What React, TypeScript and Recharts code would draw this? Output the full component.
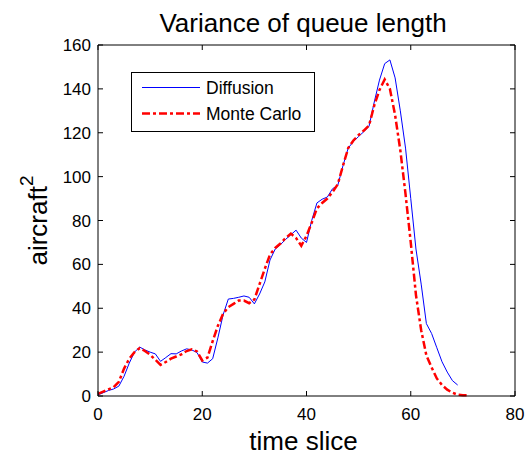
import { LineChart, Line, XAxis, YAxis, Legend, Label, ReferenceLine } from 'recharts';

const timeSlices = [
  0, 1, 2, 3, 4, 5, 6, 7, 8, 9, 10, 11, 12, 13, 14, 15, 16, 17, 18, 19, 20, 21, 22, 23,
  24, 25, 26, 27, 28, 29, 30, 31, 32, 33, 34, 35, 36, 37, 38, 39, 40, 41, 42, 43, 44, 45, 46, 47,
  48, 49, 50, 51, 52, 53, 54, 55, 56, 57, 58, 59, 60, 61, 62, 63, 64, 65, 66, 67, 68, 69, 70, 71,
];

const diffusion = [
  0.5, 1.5, 2.5, 3.2, 4.5, 9, 15, 20, 22.3, 21, 20, 19.2, 15.8, 17.5, 19.3, 19.2, 20.5, 21.5, 21, 19.8, 15.5, 15, 17, 26.5,
  37, 44.2, 44.5, 45, 45.6, 45, 42, 46.5, 52, 62, 67, 69, 71.4, 73.5, 75.6, 72, 70, 80, 88, 89.7, 90.7, 94.5, 96, 105,
  113, 116, 118.3, 120.5, 123, 134, 144, 151.5, 153.2, 145, 130, 113, 90, 67, 51, 33, 28.5, 22, 15.6, 10.9, 7, 5, null, null,
];

const monteCarlo = [
  1, 2, 3, 4, 6.5, 12.5, 17, 20, 21.8, 20.5, 18.8, 16.5, 14.2, 15.5, 17, 18, 19, 20.5, 21.3, 20.3, 16.2, 17.5, 25, 32,
  37.5, 40.5, 42, 43.5, 43.5, 42.3, 44, 51, 58, 64.5, 67.5, 69.5, 72, 74, 72, 68.5, 73, 79, 85.5, 88, 90, 93, 96.5, 105,
  113, 116.5, 119, 121, 123.3, 132.5, 139.5, 144.3, 140, 128, 112, 92, 70, 46, 30, 18.5, 13, 8, 5, 2.9, 1.5, 0.6, 0.3, 0.3,
];

const xTicks = [0, 20, 40, 60, 80];
const yTicks = [0, 20, 40, 60, 80, 100, 120, 140, 160];

const data = timeSlices.map((t, i) => ({ t, diffusion: diffusion[i], monteCarlo: monteCarlo[i] }));

const font = '"Liberation Sans", Arial, sans-serif';

// plot box size, used to mirror the inward ticks onto the top and right edges
const PLOT_W = 417;
const PLOT_H = 351;
const X_GAP = 12;
const Y_GAP = 7;
const TICK = 5;

function XTick(props: any) {
  const { x, y, payload } = props;
  const base = y - X_GAP;
  const top = base - PLOT_H;
  return (
    <g>
      <line x1={x} x2={x} y1={base} y2={base - TICK} stroke="#000" />
      <line x1={x} x2={x} y1={top} y2={top + TICK} stroke="#000" />
      <text x={x} y={y} dy="0.71em" textAnchor="middle" fontSize={17} fontFamily={font} fill="#000">
        {payload.value}
      </text>
    </g>
  );
}

function YTick(props: any) {
  const { x, y, payload } = props;
  const left = x + Y_GAP;
  const right = left + PLOT_W;
  return (
    <g>
      <line x1={left} x2={left + TICK} y1={y} y2={y} stroke="#000" />
      <line x1={right} x2={right - TICK} y1={y} y2={y} stroke="#000" />
      <text x={x} y={y} dy="0.355em" textAnchor="end" fontSize={17} fontFamily={font} fill="#000">
        {payload.value}
      </text>
    </g>
  );
}

function LegendBox() {
  return (
    <svg width={184} height={60} style={{ display: 'block', background: '#fff' }}>
      <rect x={0.5} y={0.5} width={183} height={59} fill="#fff" stroke="#000" strokeWidth={1} />
      <line x1={11} x2={69} y1={15.5} y2={15.5} stroke="#0000ff" strokeWidth={1} />
      <line x1={11} x2={69} y1={41.5} y2={41.5} stroke="#ff0000" strokeWidth={2.5} strokeDasharray="8 3 3 3" />
      <text x={75} y={21.5} fontSize={17.5} fontFamily={font} fill="#000">Diffusion</text>
      <text x={75} y={47.5} fontSize={17.5} fontFamily={font} fill="#000">Monte Carlo</text>
    </svg>
  );
}

export default function App() {
  const axisLine = { stroke: '#000', strokeWidth: 1 };

  return (
    <div style={{ position: 'absolute', left: 0, top: 0, width: 526, height: 456, background: '#fff' }}>
      <LineChart width={526} height={456} data={data} margin={{ top: 45, right: 11, bottom: 0, left: 48 }}>
        <text x={303} y={32} textAnchor="middle" fontSize={26} fontFamily={font} fill="#000">
          Variance of queue length
        </text>
        <XAxis
          dataKey="t"
          type="number"
          domain={[0, 80]}
          ticks={xTicks}
          height={60}
          tickSize={0}
          tickMargin={X_GAP}
          tick={<XTick />}
          axisLine={axisLine}
          tickLine={false}
        >
          <Label
            content={(props: any) => {
              const vb = props.viewBox;
              return (
                <text x={vb.x + vb.width / 2 - 3} y={vb.y + 54} textAnchor="middle" fontSize={26} fontFamily={font} fill="#000">
                  time slice
                </text>
              );
            }}
          />
        </XAxis>
        <YAxis
          type="number"
          domain={[0, 160]}
          ticks={yTicks}
          width={50}
          tickSize={0}
          tickMargin={Y_GAP}
          tick={<YTick />}
          axisLine={axisLine}
          tickLine={false}
        >
          <Label
            content={(props: any) => {
              const vb = props.viewBox;
              const cx = 47;
              const cy = vb.y + vb.height / 2;
              return (
                <text
                  x={cx}
                  y={cy}
                  transform={`rotate(-90 ${cx} ${cy})`}
                  textAnchor="middle"
                  fontSize={26}
                  fontFamily={font}
                  fill="#000"
                >
                  aircraft
                  <tspan fontSize={19} dy={-14}>2</tspan>
                </text>
              );
            }}
          />
        </YAxis>
        <ReferenceLine y={160} stroke="#000" strokeWidth={1} />
        <ReferenceLine x={80} stroke="#000" strokeWidth={1} />
        <Legend
          layout="horizontal"
          verticalAlign="middle"
          align="center"
          content={() => <LegendBox />}
          wrapperStyle={{ left: 131, top: 72, width: 184, height: 60 }}
        />
        <Line
          dataKey="diffusion"
          type="linear"
          stroke="#0000ff"
          strokeWidth={1}
          dot={false}
          activeDot={false}
          isAnimationActive={false}
        />
        <Line
          dataKey="monteCarlo"
          type="linear"
          stroke="#ff0000"
          strokeWidth={2.5}
          strokeDasharray="8 3 3 3"
          dot={false}
          activeDot={false}
          isAnimationActive={false}
        />
      </LineChart>
    </div>
  );
}
